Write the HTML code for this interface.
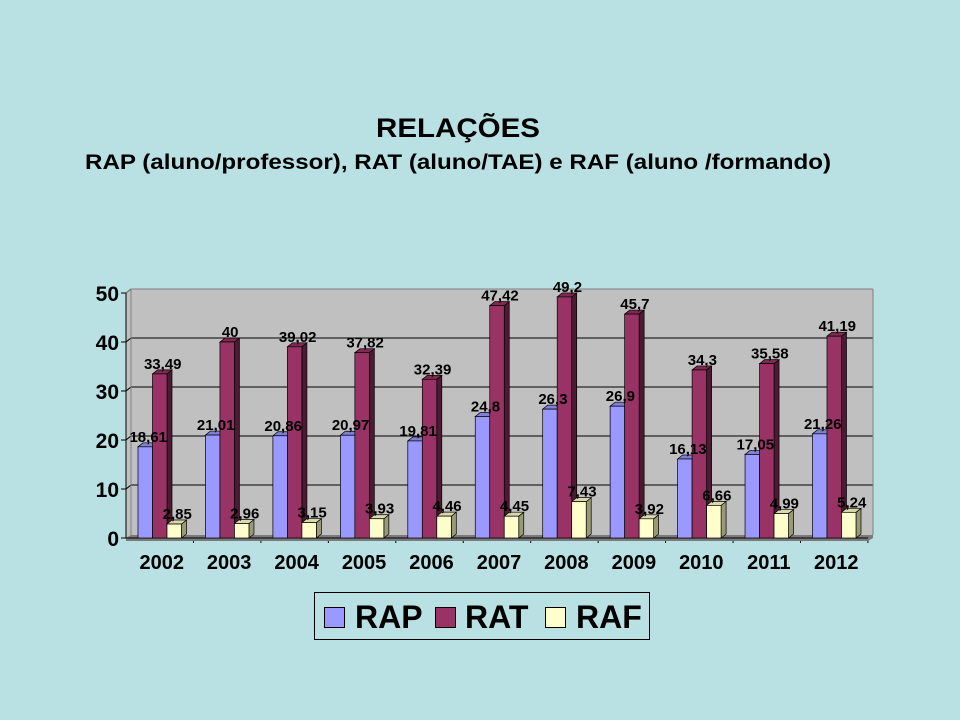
<!DOCTYPE html>
<html><head><meta charset="utf-8"><style>
body{margin:0;background:#b9e0e3;}
svg{display:block;font-family:"Liberation Sans",sans-serif;font-weight:bold;}
</style></head><body>
<svg id="s" width="960" height="720" xmlns="http://www.w3.org/2000/svg">
<text x="376" y="137" font-size="27" textLength="164" lengthAdjust="spacingAndGlyphs">RELAÇÕES</text>
<text x="85" y="169" font-size="21" textLength="746" lengthAdjust="spacingAndGlyphs">RAP (aluno/professor), RAT (aluno/TAE) e RAF (aluno /formando)</text>
<polygon points="126,293 131,289 873,289 873,535 868,538 126,538" fill="#c0c0c0"/>
<g id="grid"></g>
<polygon points="126,538 131,535 873,535 873,538 868,541 126,541" fill="#7a7a7a"/>
<line x1="131" y1="289" x2="873" y2="289" stroke="#808080"/>
<line x1="873" y1="289" x2="873" y2="535" stroke="#808080"/>
<line x1="131" y1="289" x2="131" y2="535" stroke="#808080"/>
<line x1="126" y1="293" x2="131" y2="289" stroke="#808080"/>
<line x1="126" y1="293" x2="126" y2="538" stroke="#000"/>
<line x1="126" y1="538" x2="868" y2="538" stroke="#000"/>
<g id="bars"></g>
<g id="labels" font-size="15"></g>
<rect x="314.5" y="592.5" width="335" height="47" fill="none" stroke="#000"/>
<rect x="324.5" y="607.5" width="20" height="20" fill="#9999ff" stroke="#000"/>
<text x="355" y="628" font-size="32">RAP</text>
<rect x="435.5" y="607.5" width="20" height="20" fill="#993366" stroke="#000"/>
<text x="465" y="628" font-size="32">RAT</text>
<rect x="545.5" y="607.5" width="20" height="20" fill="#ffffcc" stroke="#000"/>
<text x="576" y="628" font-size="32">RAF</text>
</svg>
<script>
const ns="http://www.w3.org/2000/svg";
function el(p,t,a,txt){const e=document.createElementNS(ns,t);for(const k in a)e.setAttribute(k,a[k]);if(txt!==undefined)e.textContent=txt;document.getElementById(p).appendChild(e);}
const Y=v=>538-v*4.9;
for(let v=0;v<=50;v+=10){
 if(v>0)el("grid","polyline",{points:`126,${Y(v)} 131,${Y(v)-4} 873,${Y(v)-4}`,fill:"none",stroke:"#000"});
 el("grid","line",{x1:121,y1:Y(v),x2:126,y2:Y(v),stroke:"#000"});
 el("grid","text",{x:119,y:Y(v)+8,"font-size":"21","text-anchor":"end"},v);
}
const yrs=[2002,2003,2004,2005,2006,2007,2008,2009,2010,2011,2012];
const rap=[18.61,21.01,20.86,20.97,19.81,24.8,26.3,26.9,16.13,17.05,21.26];
const rat=[33.49,40,39.02,37.82,32.39,47.42,49.2,45.7,34.3,35.58,41.19];
const raf=[2.85,2.96,3.15,3.93,4.46,4.45,7.43,3.92,6.66,4.99,5.24];
const cols=[["#9999ff","#6666b3","#8080d6"],["#993366","#4d1a33","#80294f"],["#ffffcc","#999977","#d9d9ad"]];
const step=67.45;
yrs.forEach((y,i)=>{
 const x0=126+i*step;
 el("grid","line",{x1:x0+step,y1:538,x2:x0+step,y2:543,stroke:"#000"});
 el("labels","text",{x:x0+step/2+2,y:569,"font-size":"20","text-anchor":"middle"},y);
 [rap[i],rat[i],raf[i]].forEach((v,j)=>{
  const bx=x0+12+j*14.5,w=14.5,t=Y(v),c=cols[j];
  el("bars","polygon",{points:`${bx+w},${t} ${bx+w+5},${t-4} ${bx+w+5},534 ${bx+w},538`,fill:c[1],stroke:"#000","stroke-width":"0.7"});
  el("bars","polygon",{points:`${bx},${t} ${bx+5},${t-4} ${bx+w+5},${t-4} ${bx+w},${t}`,fill:c[2],stroke:"#000","stroke-width":"0.7"});
  el("bars","rect",{x:bx,y:t,width:w,height:538-t,fill:c[0],stroke:"#000","stroke-width":"0.7"});
  el("labels","text",{x:bx+w/2+3,y:t-5,"text-anchor":"middle"},String(v).replace(".",","));
 });
});
</script>
</body></html>
